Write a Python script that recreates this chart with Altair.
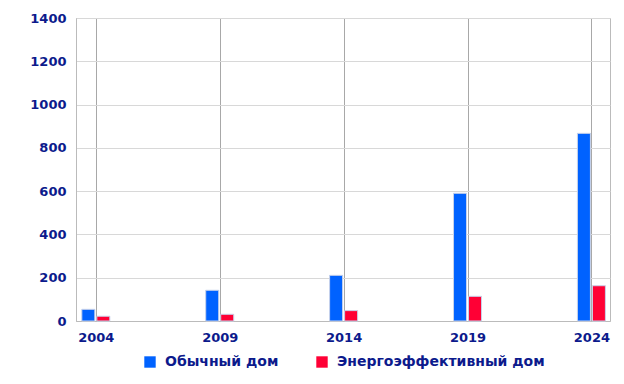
import altair as alt
import pandas as pd

years = [2004, 2009, 2014, 2019, 2024]
series = ["Обычный дом", "Энергоэффективный дом"]
regular = [54, 142, 211, 590, 867]
efficient = [22, 31, 48, 114, 163]
colors = ["#0062ff", "#ff0035"]
label_color = "#0c1a8c"
font = "DejaVu Sans"

rows = []
for y, r, e in zip(years, regular, efficient):
    rows.append({"year": y, "series": series[0], "value": r})
    rows.append({"year": y, "series": series[1], "value": e})
df = pd.DataFrame(rows)

x = alt.X("year:Q", scale=alt.Scale(domain=[2003.2, 2024.75], nice=False, zero=False, padding=0),
          axis=alt.Axis(values=years, format="d", title=None, grid=True, gridColor="#a8a8a8",
                        domain=True, domainColor="#bbbbbb", ticks=False, labelPadding=10,
                        labelColor=label_color, labelFont=font, labelFontSize=13,
                        labelFontWeight="bold"))
y = alt.Y("value:Q", scale=alt.Scale(domain=[0, 1400], nice=False, padding=0),
          axis=alt.Axis(values=list(range(0, 1401, 200)), format="d", title=None, grid=True,
                        gridColor="#d8d8d8",
                        domain=True, domainColor="#bbbbbb", ticks=False, labelPadding=10,
                        labelColor=label_color, labelFont=font, labelFontSize=13,
                        labelFontWeight="bold"))
color = alt.Color("series:N", scale=alt.Scale(domain=series, range=colors),
                  legend=alt.Legend(orient="none", legendX=67, legendY=337,
                                    direction="horizontal", title=None,
                                    symbolType="square", symbolSize=130, symbolStrokeWidth=0,
                                    labelColor=label_color, labelFont=font, labelFontSize=14,
                                    labelFontWeight="bold", labelLimit=400, labelOffset=8,
                                    columnPadding=36))

base = alt.Chart(df)
b1 = base.transform_filter(alt.datum.series == series[0]).mark_bar(
    width=13, xOffset=-7.5, stroke="#c8d2ea", strokeWidth=1).encode(x=x, y=y, color=color)
b2 = base.transform_filter(alt.datum.series == series[1]).mark_bar(
    width=13, xOffset=7.5, stroke="#c8d2ea", strokeWidth=1).encode(x=x, y=y, color=color)

chart = alt.layer(b1, b2).properties(
    width=534, height=303,
    autosize=alt.AutoSizeParams(type="none"),
    padding={"left": 68, "top": 10, "right": 6, "bottom": 51},
).configure_view(stroke="#bbbbbb", strokeWidth=1)

chart.save("out.html", embed_options={"renderer": "svg", "actions": False})
